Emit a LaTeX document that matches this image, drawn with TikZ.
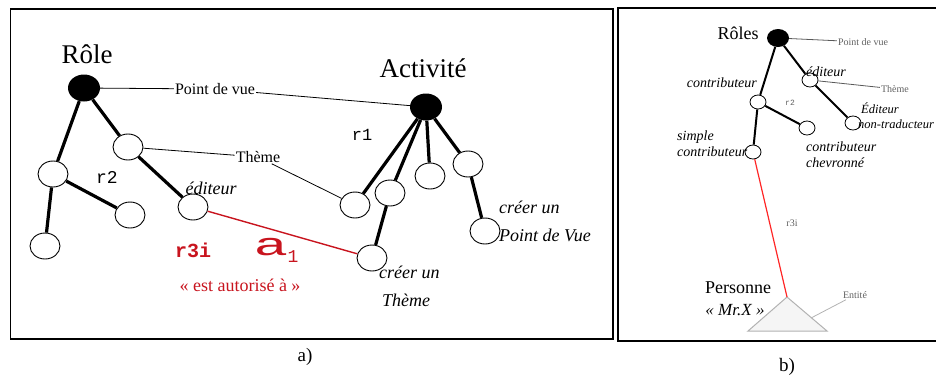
\documentclass[tikz,border=0pt]{standalone}
\usepackage{fontspec}
\setmainfont{Liberation Serif}
\setmonofont{Liberation Mono}
\usetikzlibrary{shapes.geometric}
\definecolor{rouge}{HTML}{C8141E}
\definecolor{vif}{HTML}{FF2626}

\begin{document}
\begin{tikzpicture}[x=1pt, y=-1pt,
    cercle/.style={draw, ellipse, line width=0.9pt, minimum width=30pt, minimum height=26pt, inner sep=0pt},
    racine/.style={fill=black, ellipse, minimum width=32pt, minimum height=27pt, inner sep=0pt},
    pcercle/.style={draw, ellipse, line width=0.8pt, minimum width=16pt, minimum height=14pt, inner sep=0pt},
    pracine/.style={fill=black, ellipse, minimum width=22pt, minimum height=18pt, inner sep=0pt},
    branche/.style={line width=3.2pt},
    pbranche/.style={line width=2pt},
    lien/.style={line width=0.8pt},
    glose/.style={inner sep=1pt, font=\fontsize{16}{16}\selectfont},
    pglose/.style={inner sep=1pt, text=gray!75!black, font=\fontsize{10}{10}\selectfont},
    role/.style={font=\itshape\fontsize{18}{28}\selectfont, align=left, inner sep=0pt},
    prole/.style={font=\itshape\fontsize{14}{16}\selectfont, align=left, inner sep=0pt}]
      \useasboundingbox (0,0) rectangle (936,378);

      % Draw the two frames and their legends
      \draw[line width=1.6pt] (10.5,9) rectangle (613,339);
      \draw[line width=1.6pt] (618,8) rectangle (950,341);
      \node[font=\fontsize{19}{19}\selectfont] (leg-a) at (305,357) {a)};
      \node[font=\fontsize{19}{19}\selectfont] (leg-b) at (787,367) {b)};

      % Tree of roles
      \node[racine] (role) at (84,88) {};
      \node[font=\fontsize{27}{27}\selectfont] (role-t) at (87,54) {Rôle};
      \node[cercle] (theme) at (128,147) {};
      \node[cercle] (r2) at (53,174) {};
      \node[cercle] (r2-b) at (45,246) {};
      \node[cercle] (r2-d) at (130,215) {};
      \node[cercle] (edit) at (193,207) {};
      \draw[branche] (role) -- (theme);
      \draw[branche] (theme) -- (edit);
      \draw[branche] (role) -- (r2);
      \draw[branche] (r2) -- (r2-b);
      \draw[branche] (r2) -- (r2-d);
      \node[font=\ttfamily\fontsize{18}{18}\selectfont] (r2-t) at (107,177) {r2};
      \node[role] (edit-t) at (211,188) {éditeur};

      % Tree of activities
      \node[racine] (act) at (426,107) {};
      \node[font=\fontsize{27}{27}\selectfont] (act-t) at (423,68) {Activité};
      \node[cercle] (a1) at (355,205) {};
      \node[cercle] (a2) at (390,193) {};
      \node[cercle] (a3) at (430,176) {};
      \node[cercle] (a4) at (468,164) {};
      \node[cercle] (a2-b) at (372,258) {};
      \node[cercle] (a4-b) at (485,231) {};
      \draw[branche] (act) -- (a1);
      \draw[branche] (act) -- (a2);
      \draw[branche] (act) -- (a3);
      \draw[branche] (act) -- (a4);
      \draw[branche] (a2) -- (a2-b);
      \draw[branche] (a4) -- (a4-b);
      \node[font=\ttfamily\fontsize{17}{17}\selectfont] (r1-t) at (362,135) {r1};
      \node[role, anchor=west] (a4-t) at (499,221) {créer un\\Point de Vue};
      \node[role, anchor=west] (a2-t) at (379,286) {créer un\\\hspace*{3pt}Thème};

      % Links through the labels
      \node[glose] (pdv) at (215,89) {Point de vue};
      \draw[lien] (role) -- (pdv);
      \draw[lien] (pdv) -- (act);
      \node[glose] (thm) at (258,157) {Thème};
      \draw[lien] (theme) -- (thm);
      \draw[lien] (thm) -- (a1);

      % Red link r3i
      \draw[rouge, line width=1.4pt] (edit) -- (a2-b);
      \node[text=rouge, font=\ttfamily\bfseries\fontsize{20}{20}\selectfont] (r3i) at (193,250) {r3i};
      \node[text=rouge, font=\ttfamily\fontsize{32}{32}\selectfont] (a-t) at (271,247) {\scalebox{1.8}[1]{a}};
      \node[text=rouge, font=\ttfamily\fontsize{18}{18}\selectfont] (a-i) at (293,257) {1};
      \node[text=rouge, font=\fontsize{18}{18}\selectfont] (aut) at (240,285) {« est autorisé à~»};

      % Panel b: roles
      \node[pracine] (roles) at (778,38) {};
      \node[font=\fontsize{18}{18}\selectfont] (roles-t) at (738,33) {Rôles};
      \node[pcercle] (contr) at (758,102) {};
      \node[pcercle] (edb) at (810,80) {};
      \node[pcercle] (simple) at (753,152) {};
      \node[pcercle] (chev) at (807,128) {};
      \node[pcercle] (nontr) at (853,123) {};
      \draw[pbranche] (roles) -- (contr);
      \draw[pbranche] (roles) -- (edb);
      \draw[pbranche] (contr) -- (simple);
      \draw[pbranche] (contr) -- (chev);
      \draw[pbranche] (edb) -- (nontr);
      \node[prole, anchor=east] (contr-t) at (757,83) {contributeur};
      \node[prole, anchor=west] (edb-t) at (806,72) {éditeur};
      \node[prole, anchor=west] (simple-t) at (677,144) {simple\\contributeur};
      \node[prole, anchor=west] (chev-t) at (806,155) {contributeur\\chevronné};
      \node[prole, anchor=west, font=\itshape\fontsize{12.5}{15}\selectfont] (nontr-t) at (858,116) {\hspace*{3pt}Éditeur\\non-traducteur};
      \node[pglose] (pdv-b) at (863,42) {Point de vue};
      \draw[lien, gray!70!black] (roles) -- (pdv-b);
      \node[pglose] (thm-b) at (895,89) {Thème};
      \draw[lien, gray!70!black] (edb) -- (thm-b);
      \node[pglose, font=\ttfamily\fontsize{8}{8}\selectfont] (r2-bt) at (790,103) {r2};

      % Panel b: the person
      \coordinate (tri) at (787,297);
      \coordinate (tri-g) at (748,331);
      \coordinate (tri-d) at (827,331);
      \coordinate (tri-m) at (811,318);
      \draw[gray!60, fill=gray!8, line width=1pt] (tri) -- (tri-g) -- (tri-d) -- cycle;
      \draw[vif, line width=1.2pt] (simple) -- (tri);
      \node[pglose] (r3i-b) at (792,223) {r3i};
      \node[pglose] (ent) at (855,295) {Entité};
      \draw[lien, gray!60] (tri-m) -- (ent);
      \node[font=\fontsize{18}{18}\selectfont] (pers) at (738,288) {Personne};
      \node[font=\itshape\fontsize{17}{17}\selectfont] (mrx) at (735,310) {« Mr.X »};
    \end{tikzpicture}
\end{document}
